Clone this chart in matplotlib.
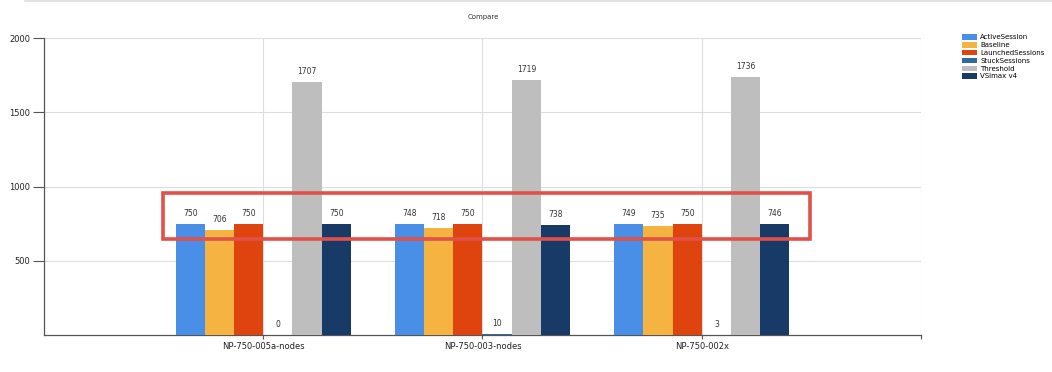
import matplotlib
matplotlib.use('Agg')

import numpy as np
import matplotlib.pyplot as plt
from matplotlib.patches import Rectangle, Patch
from matplotlib.lines import Line2D

hosts = ['NP-750-005a-nodes', 'NP-750-003-nodes', 'NP-750-002x']
series = ['ActiveSession', 'Baseline', 'LaunchedSessions', 'StuckSessions', 'Threshold', 'VSImax v4']
active = [750, 748, 749]
baseline = [706, 718, 735]
launched = [750, 750, 750]
stuck = [0, 10, 3]
threshold = [1707, 1719, 1736]
vsimax = [750, 738, 746]
yticks = [500, 1000, 1500, 2000]

colors = ['#4a8fe7', '#f5b342', '#e0440e', '#2f6a9e', '#bebebe', '#173a67']
values = [active, baseline, launched, stuck, threshold, vsimax]

FS = 5.5
fig = plt.figure(figsize=(10.52, 3.72), dpi=100)
ax = fig.add_axes([0.0418, 0.0995, 0.8337, 0.7983])

x = np.arange(len(hosts))
w = 0.8 / len(series)
for i, (name, vals, c) in enumerate(zip(series, values, colors)):
    pos = x - 0.4 + (i + 0.5) * w
    ax.bar(pos, vals, width=w, color=c, label=name, zorder=3)
    for p, v in zip(pos, vals):
        ax.text(p, v + 40, str(v), ha='center', va='bottom', fontsize=FS, color='#333333', zorder=4)

ax.set_xlim(-1, 3)
ax.set_ylim(0, 2000)
ax.set_xticks(list(x) + [3])
ax.set_xticklabels(hosts + [''], fontsize=6, color='#222222')
ax.set_yticks(yticks)
ax.set_yticklabels([str(t) for t in yticks], fontsize=6, color='#222222')
ax.tick_params(axis='y', length=8, width=0.8, color='#555555', pad=2)
ax.tick_params(axis='x', length=3, width=0.8, color='#555555', pad=2)
ax.grid(True, color='#dddddd', lw=0.8, zorder=0)
for s in ['top', 'right']:
    ax.spines[s].set_visible(False)
for s in ['left', 'bottom']:
    ax.spines[s].set_color('#555555')
    ax.spines[s].set_linewidth(0.9)

fig.text(0.459, 0.955, 'Compare', ha='center', va='center', fontsize=5, color='#333333')

# highlight box drawn over the chart
box_x0, box_x1 = -0.457, 2.493
box_y0, box_y1 = 646, 956
ax.add_patch(Rectangle((box_x0, box_y0), box_x1 - box_x0, box_y1 - box_y0,
                       fill=False, ec='#e2504a', lw=2.6, zorder=5, clip_on=False))

handles = [Patch(facecolor=c, label=n) for n, c in zip(series, colors)]
fig.legend(handles=handles, loc='upper left', bbox_to_anchor=(0.912, 0.915),
           fontsize=5, frameon=False, handlelength=2.2, handleheight=0.8,
           labelspacing=0.25, handletextpad=0.4, borderaxespad=0)

fig.add_artist(Line2D([0.024, 1.0], [0.997, 0.997], color='#dddddd', lw=1.2))

plt.savefig('out.png')
